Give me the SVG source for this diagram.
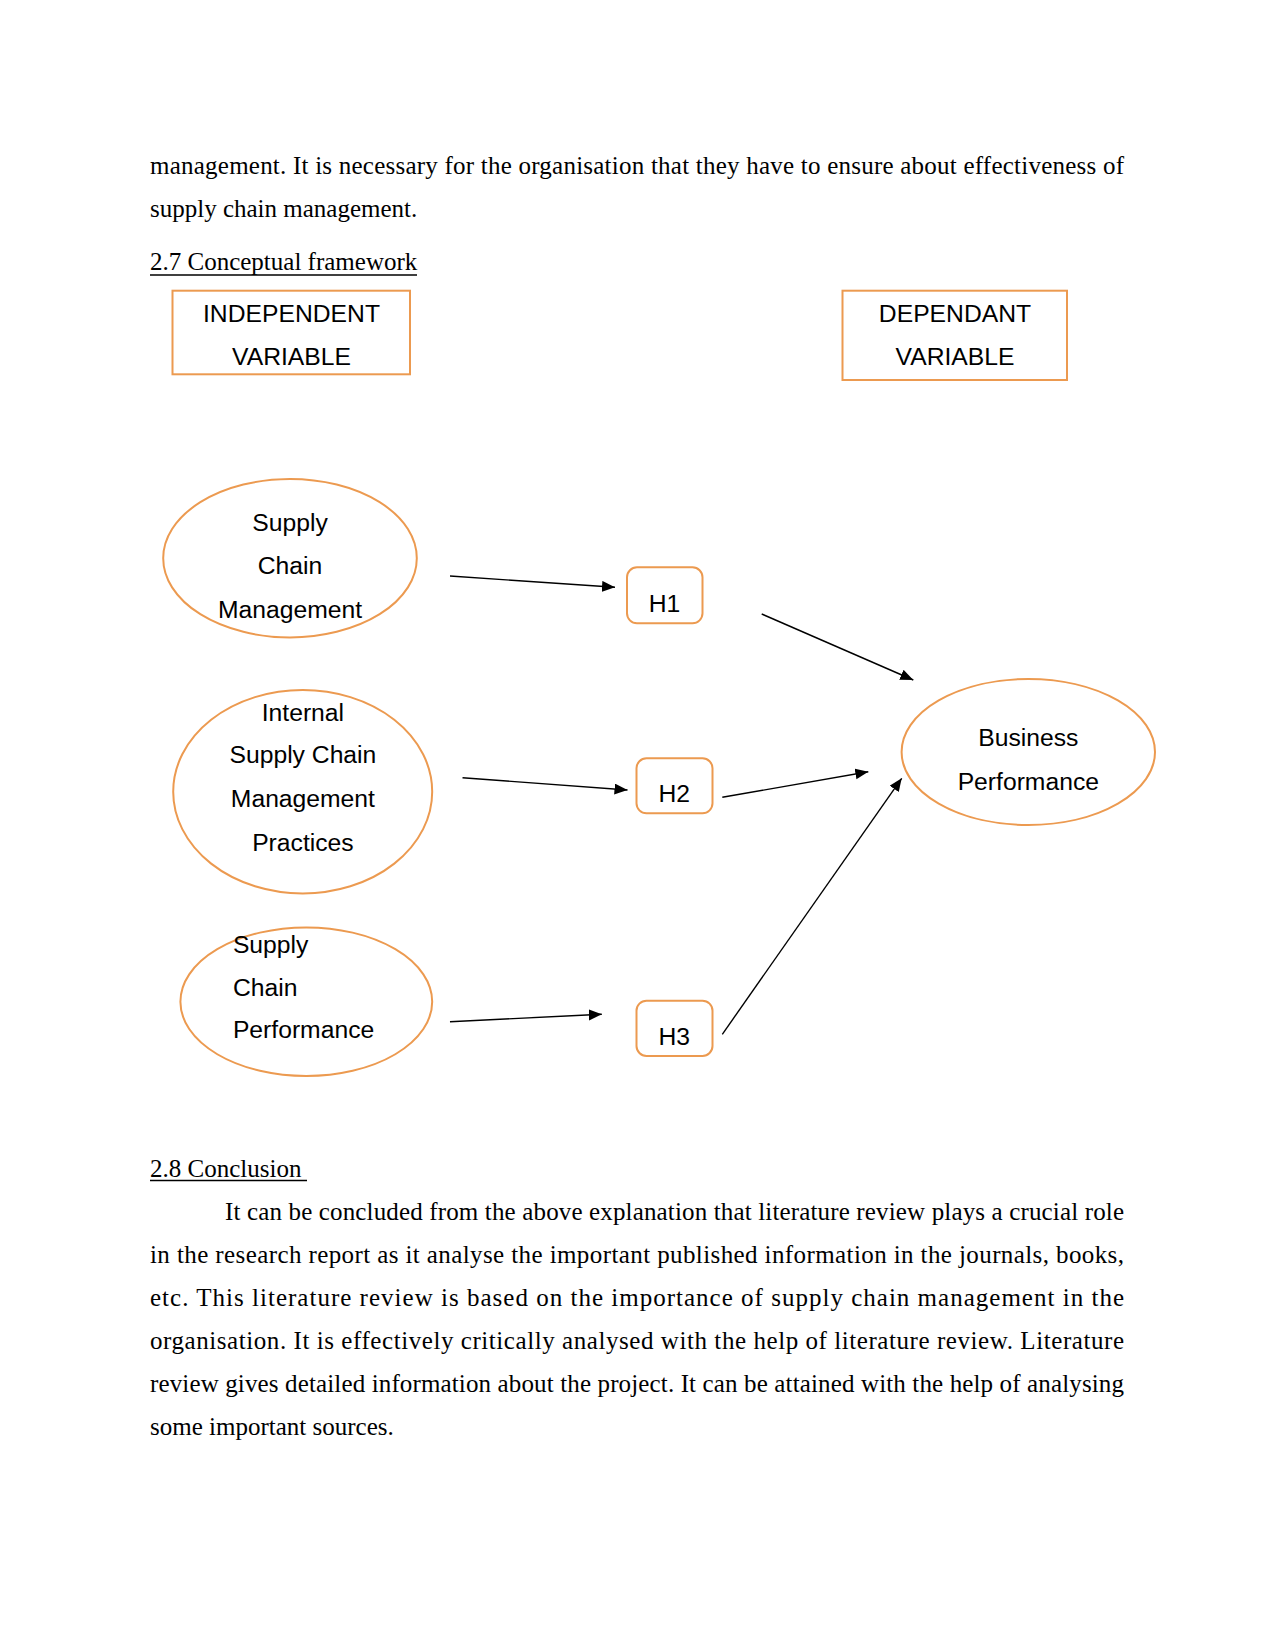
<svg xmlns="http://www.w3.org/2000/svg" width="1275" height="1651" viewBox="0 0 1275 1651">
<style>
.body{font-family:"Liberation Serif","Times New Roman",serif;font-size:25px;fill:#000}
.lbl{font-family:"Liberation Sans",Arial,sans-serif;font-size:24.7px;fill:#000}
.c{text-anchor:middle}
.shape{fill:#fff;stroke:#EC9A50;stroke-width:2}
.conn{stroke:#000;stroke-width:1.4;fill:none;marker-end:url(#ah)}
</style>
<defs>
<marker id="ah" markerUnits="userSpaceOnUse" markerWidth="14" markerHeight="12" refX="13" refY="5.5" orient="auto">
<path d="M0,0 L13,5.5 L0,11 z" fill="#000"/>
</marker>
</defs>
<rect width="1275" height="1651" fill="#fff"/>
<g id="text-top">
<text class="body" x="150" y="173.5" textLength="974" lengthAdjust="spacing">management. It is necessary for the organisation that they have to ensure about effectiveness of</text>
<text class="body" x="150" y="217">supply chain management.</text>
<text class="body" x="150" y="270.3">2.7 Conceptual framework</text>
<line x1="150" y1="275" x2="417" y2="275" stroke="#000" stroke-width="1.3"/>
</g>
<g id="independent-variable">
<rect class="shape" x="172.5" y="290.7" width="237.5" height="83.6"/>
<text class="lbl c" x="291.5" y="322.3">INDEPENDENT</text>
<text class="lbl c" x="291.5" y="365">VARIABLE</text>
</g>
<g id="dependant-variable">
<rect class="shape" x="842.5" y="290.7" width="224.5" height="89.3"/>
<text class="lbl c" x="955" y="322.3">DEPENDANT</text>
<text class="lbl c" x="955" y="365">VARIABLE</text>
</g>
<g id="scm">
<ellipse class="shape" cx="290" cy="558.2" rx="126.8" ry="79.2"/>
<text class="lbl c" x="290" y="531">Supply</text>
<text class="lbl c" x="290" y="574.3">Chain</text>
<text class="lbl c" x="290" y="617.7">Management</text>
</g>
<g id="iscmp">
<ellipse class="shape" cx="302.7" cy="791.7" rx="129.5" ry="101.7"/>
<text class="lbl c" x="302.9" y="720.7">Internal</text>
<text class="lbl c" x="302.9" y="763.3">Supply Chain</text>
<text class="lbl c" x="302.9" y="806.7">Management</text>
<text class="lbl c" x="302.9" y="850.7">Practices</text>
</g>
<g id="scp">
<ellipse class="shape" cx="306.3" cy="1001.7" rx="125.9" ry="74.3"/>
<text class="lbl" x="232.9" y="952.7">Supply</text>
<text class="lbl" x="232.9" y="996">Chain</text>
<text class="lbl" x="232.9" y="1038.3">Performance</text>
</g>
<g id="h1">
<rect class="shape" x="627" y="567.3" width="75.5" height="56" rx="10"/>
<text class="lbl c" x="664.5" y="611.7">H1</text>
</g>
<g id="h2">
<rect class="shape" x="636.5" y="758.3" width="76" height="55" rx="10"/>
<text class="lbl c" x="674.3" y="802.3">H2</text>
</g>
<g id="h3">
<rect class="shape" x="636.5" y="1000.7" width="76" height="55.3" rx="10"/>
<text class="lbl c" x="674.3" y="1045">H3</text>
</g>
<g id="business-performance">
<ellipse class="shape" cx="1028.3" cy="752" rx="126.7" ry="73"/>
<text class="lbl c" x="1028.3" y="745.7">Business</text>
<text class="lbl c" x="1028.3" y="790">Performance</text>
</g>
<g id="connectors">
<line class="conn" x1="450" y1="576" x2="615" y2="587.3"/>
<line class="conn" x1="462.5" y1="777.7" x2="627.5" y2="790"/>
<line class="conn" x1="450" y1="1021.7" x2="601.8" y2="1014.3"/>
<line class="conn" x1="761.7" y1="614" x2="913.3" y2="680"/>
<line class="conn" x1="722.3" y1="797.3" x2="868.3" y2="771.7"/>
<line class="conn" x1="722.3" y1="1034.3" x2="901.7" y2="778.3"/>
</g>
<g id="text-bottom">
<text class="body" x="150" y="1177">2.8 Conclusion </text>
<line x1="150" y1="1180.5" x2="307" y2="1180.5" stroke="#000" stroke-width="1.3"/>
<text class="body" x="225" y="1220" textLength="899" lengthAdjust="spacing">It can be concluded from the above explanation that literature review plays a crucial role</text>
<text class="body" x="150" y="1262.7" textLength="974" lengthAdjust="spacing">in the research report as it analyse the important published information in the journals, books,</text>
<text class="body" x="150" y="1306" textLength="974" lengthAdjust="spacing">etc. This literature review is based on the importance of supply chain management in the</text>
<text class="body" x="150" y="1349.3" textLength="974" lengthAdjust="spacing">organisation. It is effectively critically analysed with the help of literature review. Literature</text>
<text class="body" x="150" y="1392" textLength="974" lengthAdjust="spacing">review gives detailed information about the project. It can be attained with the help of analysing</text>
<text class="body" x="150" y="1435.3">some important sources.</text>
</g>
</svg>
